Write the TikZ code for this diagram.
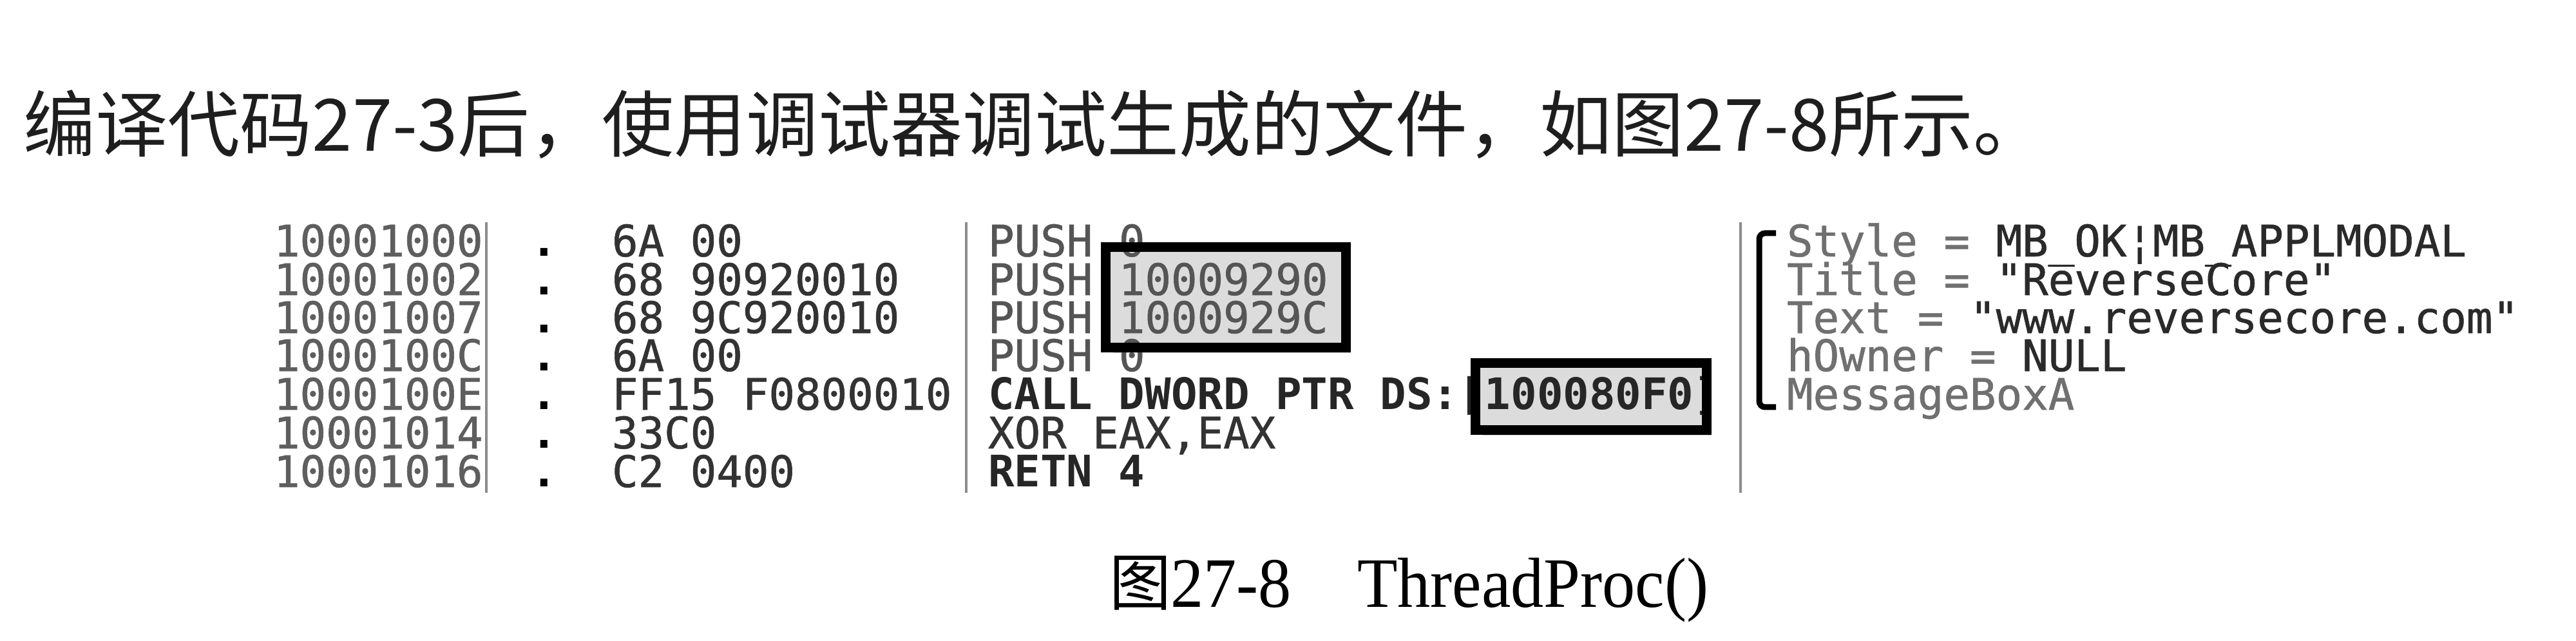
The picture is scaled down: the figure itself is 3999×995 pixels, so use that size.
\documentclass[tikz,border=0pt]{standalone}
\usepackage{fontspec}
\setmonofont{DejaVu Sans Mono}
\newfontfamily\codefont[FakeBold=0.9]{DejaVu Sans Mono}
\newfontfamily\codebold{DejaVu Sans Mono Bold}
\newfontfamily\cjk{Noto Sans CJK SC}
\newfontfamily\capfont[FakeStretch=0.93]{Liberation Serif}
\usetikzlibrary{shadows}
\definecolor{headc}{HTML}{1E1E1E}
\definecolor{addrc}{HTML}{5E5E5E}
\definecolor{hexc}{HTML}{333333}
\definecolor{insc}{HTML}{555555}
\definecolor{insb}{HTML}{262626}
\definecolor{cmtlab}{HTML}{707070}
\definecolor{cmtval}{HTML}{2A2A2A}
\definecolor{sepc}{HTML}{8C8C8C}
\definecolor{hlfill}{HTML}{DCDCDC}
\tikzset{
  mono/.style={anchor=base west, inner sep=0pt, font=\fontsize{6.74}{7}\selectfont\codefont},
  addrtxt/.style={mono, text=addrc},
  dottxt/.style={mono, text=black, font=\fontsize{6.74}{7}\selectfont\codebold},
  hextxt/.style={mono, text=hexc},
  instxt/.style={mono, text=insc},
  insbold/.style={mono, text=insb, font=\fontsize{6.74}{7}\selectfont\codebold},
  cmttxt/.style={mono, text=cmtlab},
  sepline/.style={draw=sepc, line width=0.42pt},
  hlfillbox/.style={fill=hlfill, inner sep=0pt, draw=none,
    drop shadow={opacity=0.3, shadow xshift=0.9pt, shadow yshift=-1.1pt}},
  hlborder/.style={draw=black, line width=1.5pt},
  bracketline/.style={draw=black, line width=0.9pt, rounded corners=0.9pt},
}
\begin{document}
\begin{tikzpicture}[x=0.1pt, y=-0.1pt]
\useasboundingbox (0,0) rectangle (3999,995);
\fill[white] (0,0) rectangle (3999,995);

% heading
\node[anchor=base west, inner sep=0pt, text=headc,
      font=\fontsize{11.2}{12}\selectfont\cjk] (head) at (35,235)
  {编译代码27-3后，使用调试器调试生成的文件，如图27-8所示。};

% highlight box fills (under text)
\node[hlfillbox, minimum width=36.9pt, minimum height=15.2pt] (box1) at (1903,461.5) {};
\node[hlfillbox, minimum width=35.5pt, minimum height=10pt] (box2) at (2470,615.5) {};

% separators
\coordinate (s1t) at (755,345);  \coordinate (s1b) at (755,765);
\coordinate (s2t) at (1500,345); \coordinate (s2b) at (1500,765);
\coordinate (s3t) at (2702,345); \coordinate (s3b) at (2702,765);
\draw[sepline] (s1t) -- (s1b);
\draw[sepline] (s2t) -- (s2b);
\draw[sepline] (s3t) -- (s3b);

% addresses
\node[addrtxt] (a1) at (423,398) {10001000};
\node[addrtxt] (a2) at (423,458) {10001002};
\node[addrtxt] (a3) at (423,517) {10001007};
\node[addrtxt] (a4) at (423,576) {1000100C};
\node[addrtxt] (a5) at (423,636) {1000100E};
\node[addrtxt] (a6) at (423,696) {10001014};
\node[addrtxt] (a7) at (423,756) {10001016};

% dots
\node[dottxt] (d1) at (822,398) {.};
\node[dottxt] (d2) at (822,458) {.};
\node[dottxt] (d3) at (822,517) {.};
\node[dottxt] (d4) at (822,576) {.};
\node[dottxt] (d5) at (822,636) {.};
\node[dottxt] (d6) at (822,696) {.};
\node[dottxt] (d7) at (822,756) {.};

% hex bytes
\node[hextxt] (h1) at (948,398) {6A 00};
\node[hextxt] (h2) at (948,458) {68 90920010};
\node[hextxt] (h3) at (948,517) {68 9C920010};
\node[hextxt] (h4) at (948,576) {6A 00};
\node[hextxt] (h5) at (948,636) {FF15 F0800010};
\node[hextxt] (h6) at (948,696) {33C0};
\node[hextxt] (h7) at (948,756) {C2 0400};

% instructions
\node[instxt] (i1) at (1532,398) {PUSH 0};
\node[instxt] (i2) at (1532,458) {PUSH 10009290};
\node[instxt] (i3) at (1532,517) {PUSH 1000929C};
\node[instxt] (i4) at (1532,576) {PUSH 0};
\node[insbold] (i5) at (1532,636) {CALL DWORD PTR DS:[100080F0]};
\node[instxt, text=hexc] (i6) at (1532,696) {XOR EAX,EAX};
\node[insbold] (i7) at (1532,756) {RETN 4};

% comments
\node[cmttxt] (c1) at (2772,398) {Style = {\color{cmtval}MB\_OK¦MB\_APPLMODAL}};
\node[cmttxt] (c2) at (2772,458) {Title = {\color{cmtval}"ReverseCore"}};
\node[cmttxt] (c3) at (2772,517) {Text = {\color{cmtval}"www.reversecore.com"}};
\node[cmttxt] (c4) at (2772,576) {hOwner = {\color{cmtval}NULL}};
\node[cmttxt] (c5) at (2772,636) {MessageBoxA};

% bracket
\coordinate (bt) at (2757,362);
\coordinate (bb) at (2757,632);
\draw[bracketline] (bt) -- (2731,362) -- (2731,632) -- (bb);

% highlight box borders (over text)
\draw[hlborder] (box1.north west) rectangle (box1.south east);
\draw[hlborder] (box2.north west) rectangle (box2.south east);

% caption
\node[anchor=base west, inner sep=0pt, font=\fontsize{9.6}{10}\selectfont\cjk] (capfig) at (1720,940) {图};
\node[anchor=base west, inner sep=0pt, font=\fontsize{11}{12}\selectfont\capfont] (capnum) at (1815,943) {27-8};
\node[anchor=base west, inner sep=0pt, font=\fontsize{11}{12}\selectfont\capfont] (captitle) at (2105,943) {ThreadProc()};
\end{tikzpicture}
\end{document}
